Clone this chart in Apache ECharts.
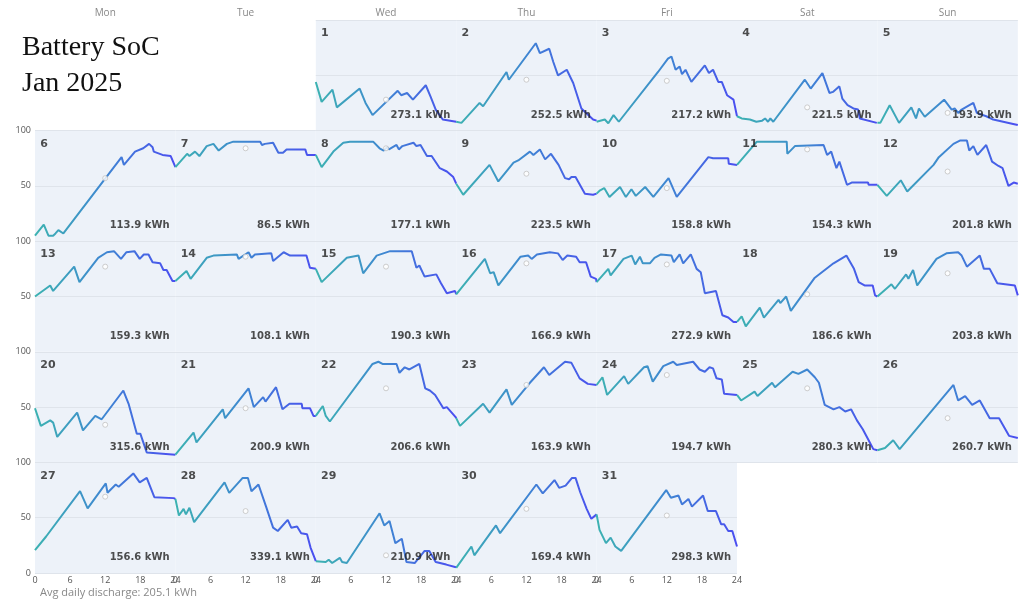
<!DOCTYPE html>
<html>
<head>
<meta charset="utf-8">
<script src="https://cdn.jsdelivr.net/npm/echarts/dist/echarts.min.js"></script>
<style>
html,body{margin:0;padding:0;background:#fff;}
#chart{width:1024px;height:606px;}
</style>
</head>
<body>
<div id="chart"></div>
<script>
// ---------------- DATA ----------------
const weekdays = ['Mon','Tue','Wed','Thu','Fri','Sat','Sun'];
const firstWeekdayIndex = 2; // 1 Jan 2025 is a Wednesday
const dischargeKWh = [273.1,252.5,217.2,221.5,193.9,113.9,86.5,177.1,223.5,158.8,154.3,201.8,159.3,108.1,190.3,166.9,272.9,186.6,203.8,315.6,200.9,206.6,163.9,194.7,280.3,260.7,156.6,339.1,210.9,169.4,298.3];
const avgSoC = [28,46,45,21,16,57,84,84,61,48,83,63,77,86,77,80,79,52,71,34,49,67,70,79,67,40,69,56,16,58,52];

// [hour of day, state of charge %]
const socDay1 = [[0,44],[1,26],[2.85,37],[3.6,21],[7.5,38],[8.5,25],[9.7,14],[14,36],[14.6,32],[15.6,34],[16.6,28],[18.8,41],[19.6,31],[20.5,19],[21.7,10],[24,8]];
const socDay2 = [[0,8],[0.9,7],[4,25],[4.6,22],[8.6,53],[9,46],[13.6,79],[14.3,70],[15.9,74],[16.6,62],[17.4,50],[18.9,55],[20,43],[21.4,20],[23.4,10],[24,9]];
const socDay3 = [[0,8],[1.4,10],[2,6.6],[2.9,14],[3.8,8],[10.5,53],[12.2,65],[12.8,67],[13.5,55],[14.2,58],[14.6,51],[15.2,55],[16.2,44],[18.5,59],[19.2,52],[19.9,55],[20.8,44],[21.4,44],[22.3,32],[23.4,28],[24,13]];
const socDay4 = [[0,13],[0.8,11],[2.2,10],[3.3,8],[4.3,9],[4.8,11],[5.3,8],[5.7,11],[6.2,8],[11.6,46],[12.6,38],[14.6,52],[15.6,37],[15.8,34],[16.4,35],[17.5,40],[18,29],[18.9,23],[19.9,20],[20.7,19],[21,11],[23.9,7],[24,7]];
const socDay5 = [[0,7],[0.5,7],[2.1,23],[3.7,7],[5.8,21],[6.6,11],[7.1,20],[8.1,12.5],[11.4,28],[12.7,19],[13.2,20],[13.8,16],[14.4,19],[16.4,25],[17,16],[18.6,13],[19.8,10],[23.2,6],[24,5]];
const socDay6 = [[0,5],[1.5,15],[2.3,5],[3.1,5],[3.5,7],[4,10],[4.85,7],[14.8,76],[15.2,69],[17.1,81],[18.5,84],[19.5,88],[20.1,85],[20.3,81],[21.8,78],[23.2,77],[24,67]];
const socDay7 = [[0,67],[2,79],[2.4,77],[3.35,81],[4.1,77],[5.35,86],[6.5,88],[7.4,82],[8.8,88],[9.9,90],[14.5,90],[14.8,87],[15.3,88],[16.7,89],[17.6,80],[18.4,80],[19,83],[22.2,83],[22.5,78],[24,78]];
const socDay8 = [[0,78],[1,67],[3,81],[4.7,89],[5.85,90],[9.8,90],[10.9,84],[11.6,82],[12.2,85],[12.5,83],[13.8,87],[14.2,83],[14.8,86],[16.7,89],[17.2,86],[17.9,87],[19,77],[19.8,77],[21.2,66],[22.4,63],[23.5,58],[24,52]];
const socDay9 = [[0,52],[1.2,42],[5.7,69],[7.2,54],[9.8,71],[10.6,73],[12.6,81],[13.2,78],[14.3,83],[15.2,74],[16.2,79],[17.5,69],[18.6,57],[19.3,56],[19.7,58],[20.4,58],[22,43],[23.4,42],[24,43]];
const socDay10 = [[0,43],[0.6,46],[1.3,48],[2.2,40],[4,49],[5,40],[5.95,47],[6.7,41],[8.3,49],[9.7,40],[12.3,57],[13.7,40],[19.1,76],[19.9,75],[22.5,75],[22.6,70],[24,69]];
const socDay11 = [[0,69],[3.4,90],[8.5,90],[8.6,79],[9.9,86],[14.8,87],[15.4,78],[16.1,81],[17,66],[17.5,72],[18.8,51],[19.6,53],[22.4,53],[22.5,51],[24,51]];
const socDay12 = [[0,51],[1.6,41],[4,55],[5.1,45],[9.6,69],[10.5,76],[13,88],[14.1,91],[15.3,91],[15.7,82],[16.4,86],[17.1,78],[18.6,87],[19.6,72],[20.7,68],[21.4,66],[22.4,50],[23.3,53],[24,52]];
const socDay13 = [[0,50],[2.6,60],[3.1,55],[6.7,77],[7.6,63],[10.8,85],[12.3,90],[13.5,91],[14.7,84],[15.6,90],[17,91],[17.9,84],[18.6,88],[19.4,88],[20.1,81],[21.4,80],[21.95,74],[22.5,74],[23.5,64],[24,64]];
const socDay14 = [[0,64],[1.9,73],[2.6,66],[5.35,85],[6.5,87],[10.5,88],[10.8,84],[12.5,90],[13,85],[13.6,88],[16.4,89],[16.7,82],[18.5,90],[19.6,87],[22.4,87],[23,76],[24,75]];
const socDay15 = [[0,75],[1,63],[5.3,85],[7.3,87],[8.1,71],[10.4,87],[12.7,91],[16.4,91],[17.2,76],[17.7,78],[18.6,68],[20.6,70],[21.4,62],[22.4,53],[23.8,55],[24,52]];
const socDay16 = [[0,52],[4.9,84],[5.8,71],[6.4,72],[7.2,60],[11,86],[12.3,87],[12.9,84],[13.8,88],[16,90],[17.4,89],[18.2,83],[19,87],[20.5,86],[21.1,81],[22.2,81],[23,68],[23.9,66],[24,63]];
const socDay17 = [[0,63],[2,75],[2.4,69],[4.6,84],[6,87],[6.6,79],[7.4,86],[7.9,80],[9.1,80],[9.9,85],[11,88],[12.8,87],[13.2,81],[14.2,88],[14.8,80],[16.1,88],[17.1,75],[17.8,72],[18.5,53],[20.4,55],[21.5,33],[22.5,31],[23.4,27],[24,27]];
const socDay18 = [[0,27],[0.8,32],[1.5,23],[3.9,40],[4.6,31],[7.1,47],[7.4,44],[8.4,50],[9.2,37],[13.3,67],[16.5,80],[18.7,87],[20,75],[20.8,63],[21.8,60],[23.2,60],[23.6,51],[24,50]];
const socDay19 = [[0,50],[2.4,61],[3,57],[4.9,70],[5.3,66],[6.1,74],[6.8,60],[10.1,84],[11.8,89],[13.8,90],[14.4,87],[15.3,77],[17.5,87],[18.2,75],[19.2,75],[20.5,62],[23.5,60],[24,51]];
const socDay20 = [[0,49],[1,33],[1.3,32],[2.6,38],[3.1,36],[3.8,23],[7.2,45],[8.2,29],[10.3,42],[11.4,39],[15.1,65],[16,53],[17.4,26],[18,26],[19.1,9],[24,7]];
const socDay21 = [[0,7],[3.1,27],[3.6,18],[8.1,48],[8.5,40],[12.5,67],[13.4,50],[15,59],[15.4,55],[17.2,68],[18.3,48],[19.5,53],[21.6,53],[21.7,49],[23,49],[23.6,42],[24,42]];
const socDay22 = [[0,42],[1.2,51],[1.7,42],[2.4,37],[9.7,89],[10.7,91],[11.4,89],[13.8,89],[14.3,81],[15.2,86],[16,84],[17.7,89],[18.7,67],[19.5,65],[20.4,61],[21.8,49],[22.4,50],[23.9,41],[24,40]];
const socDay23 = [[0,40],[0.65,33],[4.6,53],[5.7,45],[8.6,66],[9.5,52],[12.6,72],[15,86],[15.9,79],[18.6,91],[19.7,90],[21.1,76],[22.5,71],[24,70]];
const socDay24 = [[0,70],[1,77],[1.8,61],[4.7,78],[5.4,71],[8.1,86],[8.7,87],[9.6,73],[11.4,87],[13.1,91],[13.7,88],[16.5,91],[17.6,84],[18.5,82],[19.3,86],[19.9,85],[20.5,76],[21.4,75],[21.8,62],[24,61]];
const socDay25 = [[0,61],[0.7,56],[3,64],[3.5,60],[6,72],[6.5,68],[9.5,82],[10.5,80],[12,84],[13.3,77],[14,72],[15,52],[16.5,48],[17.5,50],[18.5,46],[19.5,48],[20.5,38],[21.5,30],[22.5,20],[23.3,12],[24,11]];
const socDay26 = [[0,11],[1.3,13],[2.7,20],[3.8,12],[13,70],[13.8,56],[15,60],[16.2,52],[17.5,56],[19.2,40],[20.8,40],[22.5,24],[24,22]];
const socDay27 = [[0,20.7],[1.9,33],[7.7,74],[9,58.5],[12.1,81],[12.4,72.5],[13.8,80],[14.3,78],[16.8,90],[17.9,82],[19.1,86],[20.4,68.6],[23.7,67.7],[24,67]];
const socDay28 = [[0,67],[0.6,52],[1.4,58],[1.8,53],[2.4,59],[3.2,46],[8.4,82],[9.2,72.5],[11.5,86],[12.4,86],[13,74],[14.2,80],[15.5,60],[16.7,41],[17.5,38],[19.2,48],[19.8,41],[20.8,42],[21.5,36],[22.5,35],[23.1,23],[24,10.7]];
const socDay29 = [[0,10.7],[1.7,10],[2.2,12],[2.8,9],[4.1,13.7],[4.5,10],[5.3,9],[10.9,54],[11.7,43],[12.6,47],[13.6,27],[14.7,31],[15.5,10],[16.9,9],[18.6,20],[19.4,20],[20.5,10],[22.3,7.6],[23.8,5.5],[24,5]];
const socDay30 = [[0,4.6],[2.6,24],[3.1,16],[6.8,43],[7.5,36],[13.7,80],[14.8,72],[16.8,84],[17.6,77],[18.7,79],[19.8,86],[20.4,86],[21.2,73],[22.3,58],[23.1,49],[24,53]];
const socDay31 = [[0,53],[0.5,39],[1.6,27],[2.4,32],[3.2,24],[4.2,20],[11.9,75],[12.7,68],[14,70],[14.6,62],[15.7,67],[16.3,60],[18.2,70],[19,56],[20.4,56],[21.3,44],[21.8,44],[22.5,38],[23.2,38],[24,24]];

const socDays = [socDay1,socDay2,socDay3,socDay4,socDay5,socDay6,socDay7,socDay8,socDay9,socDay10,socDay11,socDay12,socDay13,socDay14,socDay15,socDay16,socDay17,socDay18,socDay19,socDay20,socDay21,socDay22,socDay23,socDay24,socDay25,socDay26,socDay27,socDay28,socDay29,socDay30,socDay31];

// ---------------- LAYOUT ----------------
const L = 35, CW = 140.4, T = 20, RH = 110.6;
const lastRow = Math.floor((socDays.length - 1 + firstWeekdayIndex) / 7);
const bg = '#edf2f9';
const lineGrad = {type:'linear', x:0, y:0, x2:1, y2:0, colorStops:[{offset:0,color:'#3cb4b0'},{offset:0.5,color:'#3f86d2'},{offset:1,color:'#4b4cf2'}]};

const grids = [], xAxes = [], yAxes = [], series = [];
socDays.forEach((pts, i) => {
  const d = i + 1;
  const pos = i + firstWeekdayIndex;
  const col = pos % 7, row = Math.floor(pos / 7);
  const bottom = row === lastRow;
  grids.push({left: L + col * CW, top: T + row * RH, width: CW, height: RH, show: true, backgroundColor: bg, borderWidth: 0});
  xAxes.push({type:'value', gridIndex:i, min:0, max:24, interval:6,
    axisLine:{show:false}, axisTick:{show:false}, splitLine:{show:false},
    axisLabel:{show:bottom, fontSize:9, color:'#555', margin:3, fontFamily:'Open Sans', showMinLabel:true, showMaxLabel:true}});
  yAxes.push({type:'value', gridIndex:i, min:0, max:100, interval:50,
    axisLine:{show:false}, axisTick:{show:false},
    splitLine:{show:true, lineStyle:{color:'#dfe4eb', width:1}},
    axisLabel:{show:col === 0, fontSize:9, color:'#555', margin:4, fontFamily:'Open Sans',
      formatter: v => (v === 0 && !bottom) ? '' : String(v)}});
  series.push({type:'line', xAxisIndex:i, yAxisIndex:i, data:pts, showSymbol:false, symbol:'none',
    lineStyle:{width:2, color:lineGrad}, silent:true, animation:false, z:2});
  series.push({type:'scatter', xAxisIndex:i, yAxisIndex:i, data:[[12, avgSoC[i]]], symbol:'circle', symbolSize:5,
    itemStyle:{color:'#ffffff', borderColor:'#c2c2c2', borderWidth:1}, silent:true, animation:false, z:3});
  series.push({type:'scatter', xAxisIndex:i, yAxisIndex:i, symbolSize:0, silent:true, animation:false, z:4,
    label:{show:true, position:'inside', fontWeight:'bold', color:'#222', fontFamily:'DejaVu Sans', verticalAlign:'middle'},
    data:[
      {value:[0.9, 88], label:{formatter:String(d), align:'left', fontSize:11}},
      {value:[23, 14], label:{formatter:dischargeKWh[i].toFixed(1) + ' kWh', align:'right', fontSize:10}}
    ]});
});

const avgDischarge = dischargeKWh.reduce((a, b) => a + b, 0) / dischargeKWh.length;

const graphics = [
  {type:'text', left:22, top:30, style:{text:'Battery SoC\nJan 2025', font:'28px "Liberation Serif"', lineHeight:36, fill:'#111'}},
  {type:'text', left:40, top:587, style:{text:'Avg daily discharge: ' + avgDischarge.toFixed(1) + ' kWh', font:'11px "Open Sans"', fill:'#888'}}
];
weekdays.forEach((w, c) => {
  graphics.push({type:'text', x: L + c * CW + CW / 2, y: 13, style:{text:w, font:'10px "Open Sans"', fill:'#888', textAlign:'center', textVerticalAlign:'middle'}});
});

const chart = echarts.init(document.getElementById('chart'), null, {renderer:'canvas'});
chart.setOption({
  animation:false,
  backgroundColor:'#ffffff',
  grid:grids, xAxis:xAxes, yAxis:yAxes, series:series,
  graphic:graphics
});
</script>
</body>
</html>
